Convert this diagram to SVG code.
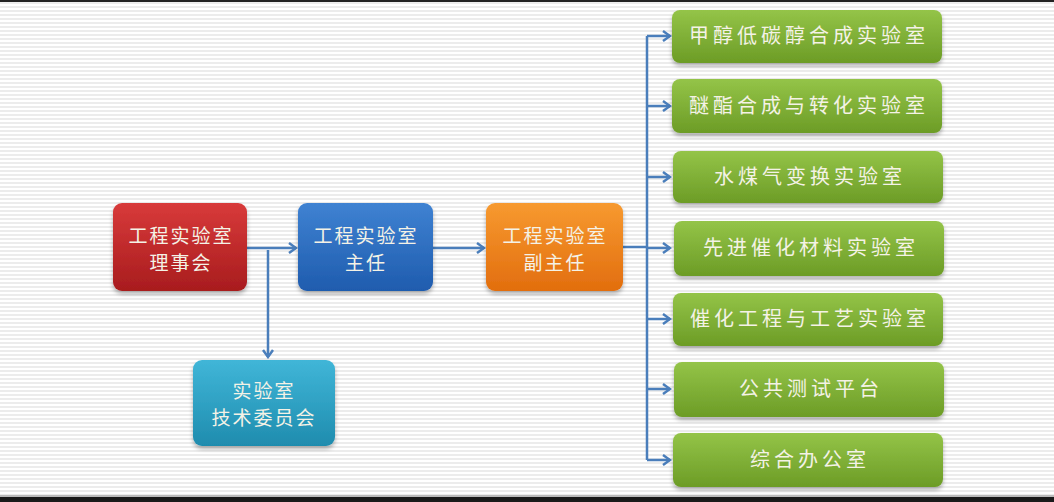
<svg xmlns="http://www.w3.org/2000/svg" width="1054" height="502" viewBox="0 0 1054 502">
<defs>
<pattern id="stripes" width="8" height="4" patternUnits="userSpaceOnUse">
<rect width="8" height="4" fill="#ffffff"/>
<rect y="2" width="8" height="2" fill="#ececec"/>
</pattern>
<linearGradient id="gRed" x1="0" y1="0" x2="0" y2="1"><stop offset="0" stop-color="#d83a3a"/><stop offset="1" stop-color="#a81c1e"/></linearGradient>
<linearGradient id="gBlue" x1="0" y1="0" x2="0" y2="1"><stop offset="0" stop-color="#3f82d2"/><stop offset="1" stop-color="#1f5cae"/></linearGradient>
<linearGradient id="gOrange" x1="0" y1="0" x2="0" y2="1"><stop offset="0" stop-color="#f79a30"/><stop offset="1" stop-color="#e26e0e"/></linearGradient>
<linearGradient id="gTeal" x1="0" y1="0" x2="0" y2="1"><stop offset="0" stop-color="#40b6d8"/><stop offset="1" stop-color="#1f8cae"/></linearGradient>
<linearGradient id="gGreen" x1="0" y1="0" x2="0" y2="1"><stop offset="0" stop-color="#94c448"/><stop offset="1" stop-color="#6c9c26"/></linearGradient>
<filter id="sh" x="-10%" y="-10%" width="120%" height="130%">
<feDropShadow dx="0" dy="3" stdDeviation="2" flood-color="#000" flood-opacity="0.3"/>
</filter>
<marker id="arr" markerWidth="10" markerHeight="12" refX="8" refY="6" orient="auto" markerUnits="userSpaceOnUse">
<path d="M1,1 L8,6 L1,11" fill="none" stroke="#4a7ebb" stroke-width="2.5" stroke-linejoin="miter"/>
</marker>
</defs>
<style>
.box{filter:url(#sh);}
.t{font-family:"Noto Sans CJK SC","Noto Sans",sans-serif;fill:#f4f2e6;font-size:19px;text-anchor:middle;letter-spacing:2px;}
.tg{font-family:"Noto Sans CJK SC","Noto Sans",sans-serif;fill:#f4f2e6;font-size:20px;text-anchor:middle;letter-spacing:4px;}
.ln{fill:none;stroke:#4a7ebb;stroke-width:2.5;}
</style>
<rect width="1054" height="502" fill="url(#stripes)"/>
<rect x="0" y="0" width="1054" height="2" fill="#222"/>
<rect x="0" y="495" width="1054" height="2" fill="#bbb"/>
<rect x="0" y="497" width="1054" height="5" fill="#1a1a1a"/>

<g id="connectors">
<path class="ln" d="M247,248 H296" marker-end="url(#arr)"/>
<path class="ln" d="M268,250 V357" marker-end="url(#arr)"/>
<path class="ln" d="M433,248 H484" marker-end="url(#arr)"/>
<path class="ln" d="M623,247 H647"/>
<path class="ln" d="M647,36 V460"/>
<path class="ln" d="M647,36 H670" marker-end="url(#arr)"/>
<path class="ln" d="M647,106 H670" marker-end="url(#arr)"/>
<path class="ln" d="M647,177 H670" marker-end="url(#arr)"/>
<path class="ln" d="M647,248 H670" marker-end="url(#arr)"/>
<path class="ln" d="M647,319 H670" marker-end="url(#arr)"/>
<path class="ln" d="M647,389 H670" marker-end="url(#arr)"/>
<path class="ln" d="M647,460 H670" marker-end="url(#arr)"/>
</g>

<g id="n-council">
<rect class="box" x="113" y="203" width="134" height="88" rx="9" fill="url(#gRed)"/>
<text class="t" x="181" y="243">工程实验室</text>
<text class="t" x="181" y="270">理事会</text>
</g>
<g id="n-director">
<rect class="box" x="298" y="203" width="135" height="88" rx="9" fill="url(#gBlue)"/>
<text class="t" x="366" y="243">工程实验室</text>
<text class="t" x="366" y="270">主任</text>
</g>
<g id="n-deputy">
<rect class="box" x="486" y="203" width="137" height="88" rx="9" fill="url(#gOrange)"/>
<text class="t" x="555" y="243">工程实验室</text>
<text class="t" x="555" y="270">副主任</text>
</g>
<g id="n-tech">
<rect class="box" x="193" y="360" width="142" height="86" rx="9" fill="url(#gTeal)"/>
<text class="t" x="264" y="398">实验室</text>
<text class="t" x="264" y="425">技术委员会</text>
</g>

<g id="n-lab1">
<rect class="box" x="672" y="10" width="270" height="53" rx="8" fill="url(#gGreen)"/>
<text class="tg" x="809" y="43">甲醇低碳醇合成实验室</text>
</g>
<g id="n-lab2">
<rect class="box" x="672" y="79" width="270" height="54" rx="8" fill="url(#gGreen)"/>
<text class="tg" x="809" y="113">醚酯合成与转化实验室</text>
</g>
<g id="n-lab3">
<rect class="box" x="673" y="151" width="270" height="52" rx="8" fill="url(#gGreen)"/>
<text class="tg" x="810" y="184">水煤气变换实验室</text>
</g>
<g id="n-lab4">
<rect class="box" x="674" y="221" width="270" height="55" rx="8" fill="url(#gGreen)"/>
<text class="tg" x="811" y="255">先进催化材料实验室</text>
</g>
<g id="n-lab5">
<rect class="box" x="673" y="293" width="270" height="53" rx="8" fill="url(#gGreen)"/>
<text class="tg" x="810" y="326">催化工程与工艺实验室</text>
</g>
<g id="n-lab6">
<rect class="box" x="674" y="362" width="270" height="55" rx="8" fill="url(#gGreen)"/>
<text class="tg" x="811" y="396">公共测试平台</text>
</g>
<g id="n-lab7">
<rect class="box" x="673" y="433" width="270" height="54" rx="8" fill="url(#gGreen)"/>
<text class="tg" x="810" y="467">综合办公室</text>
</g>
</svg>
